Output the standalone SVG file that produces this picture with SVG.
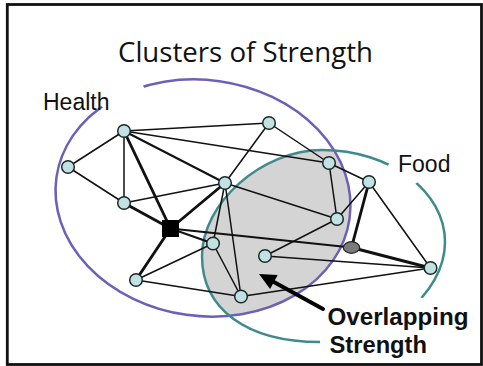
<svg xmlns="http://www.w3.org/2000/svg" width="483" height="366" viewBox="0 0 483 366">
  <style>
    .e { stroke: #111; stroke-width: 1.5; fill: none; stroke-linecap: round; }
    .m { stroke-width: 2.1; }
    .t { stroke-width: 2.9; }
    .n { fill: #c2e2e2; stroke: #1a2a2a; stroke-width: 1.5; }
    .lbl { font-family: "Liberation Sans", Arial, sans-serif; font-size: 23px; fill: #111; }
    .bold { font-family: "Liberation Sans", Arial, sans-serif; font-size: 24px; font-weight: bold; fill: #111; }
    .title { font-family: "Open Sans", "Noto Sans", sans-serif; font-size: 28px; fill: #111; }
  </style>
  <defs>
    <clipPath id="purpleClip">
      <ellipse cx="203" cy="198" rx="148" ry="118" transform="rotate(8 203 198)"/>
    </clipPath>
    <mask id="purpleGap" maskUnits="userSpaceOnUse" x="0" y="0" width="483" height="366">
      <rect x="0" y="0" width="483" height="366" fill="#fff"/>
      <polygon points="203,198 40.3,87.8 95.8,50.9" fill="#000"/>
    </mask>
    <mask id="tealGap" maskUnits="userSpaceOnUse" x="0" y="0" width="483" height="366">
      <rect x="0" y="0" width="483" height="366" fill="#fff"/>
      <polygon points="322,246 424,121.5 466,150" fill="#000"/>
      <polygon points="322,246 469,322.5 482,426 319,390" fill="#000"/>
    </mask>
    <path id="tealShape" d="M322,150 C389.9,150 445,191.2 445,242 C445,294 385,342 320,342 C246.8,342 202,309.3 202,256 C202,203 262,150 322,150 Z"/>
  </defs>

  <rect x="0" y="0" width="483" height="366" fill="#fff"/>
  <rect x="7.3" y="4.5" width="474.2" height="360" fill="none" stroke="#111" stroke-width="2.8"/>

  <g id="title">
    <text class="title" x="118" y="62" textLength="255" lengthAdjust="spacingAndGlyphs">Clusters of Strength</text>
  </g>

  <g id="overlap">
    <use href="#tealShape" fill="#d4d4d4" clip-path="url(#purpleClip)"/>
  </g>

  <g id="health-cluster">
    <ellipse cx="203" cy="198" rx="148" ry="118" transform="rotate(8 203 198)" fill="none" stroke="#6b62b8" stroke-width="2.5" mask="url(#purpleGap)"/>
    <text class="lbl" x="43" y="110">Health</text>
  </g>

  <g id="food-cluster">
    <use href="#tealShape" fill="none" stroke="#3e8a8c" stroke-width="2.5" mask="url(#tealGap)"/>
    <text class="lbl" x="398" y="171.5">Food</text>
  </g>

  <g id="connectors">
    <line class="e" x1="124" y1="131" x2="269" y2="123"/>
    <line class="e" x1="124" y1="131" x2="68" y2="167"/>
    <line class="e" x1="124" y1="131" x2="124" y2="203"/>
    <line class="e" x1="124" y1="131" x2="329" y2="163"/>
    <line class="e m" x1="124" y1="131" x2="225" y2="183"/>
    <line class="e t" x1="124" y1="131" x2="170.5" y2="228.5"/>
    <line class="e" x1="269" y1="123" x2="225" y2="183"/>
    <line class="e" x1="269" y1="123" x2="329" y2="163"/>
    <line class="e" x1="68" y1="167" x2="124" y2="203"/>
    <line class="e" x1="124" y1="203" x2="225" y2="183"/>
    <line class="e t" x1="124" y1="203" x2="170.5" y2="228.5"/>
    <line class="e t" x1="225" y1="183" x2="170.5" y2="228.5"/>
    <line class="e" x1="225" y1="183" x2="213" y2="243.5"/>
    <line class="e" x1="225" y1="183" x2="241" y2="296.5"/>
    <line class="e" x1="225" y1="183" x2="337" y2="219"/>
    <line class="e m" x1="170.5" y1="228.5" x2="213" y2="243.5"/>
    <line class="e m" x1="170.5" y1="228.5" x2="351.5" y2="247.5"/>
    <line class="e t" x1="170.5" y1="228.5" x2="136" y2="280"/>
    <line class="e" x1="213" y1="243.5" x2="136" y2="280"/>
    <line class="e" x1="213" y1="243.5" x2="241" y2="296.5"/>
    <line class="e" x1="136" y1="280" x2="241" y2="296.5"/>
    <line class="e" x1="241" y1="296.5" x2="430.5" y2="268"/>
    <line class="e" x1="265" y1="256" x2="430.5" y2="268"/>
    <line class="e" x1="265" y1="256" x2="337" y2="219"/>
    <line class="e" x1="329" y1="163" x2="337" y2="219"/>
    <line class="e" x1="329" y1="163" x2="369" y2="182"/>
    <line class="e" x1="369" y1="182" x2="337" y2="219"/>
    <line class="e t" x1="369" y1="182" x2="351.5" y2="247.5"/>
    <line class="e" x1="369" y1="182" x2="430.5" y2="268"/>
    <line class="e t" x1="351.5" y1="247.5" x2="430.5" y2="268"/>
  </g>

  <g id="node-a"><circle class="n" cx="124" cy="131" r="6.3"/></g>
  <g id="node-b"><circle class="n" cx="269" cy="123" r="6.3"/></g>
  <g id="node-c"><circle class="n" cx="68" cy="167" r="6.3"/></g>
  <g id="node-d"><circle class="n" cx="124" cy="203" r="6.3"/></g>
  <g id="node-e"><circle class="n" cx="225" cy="183" r="6.3"/></g>
  <g id="node-f"><circle class="n" cx="329" cy="163" r="6.3"/></g>
  <g id="node-g"><circle class="n" cx="369" cy="182" r="6.3"/></g>
  <g id="node-h"><circle class="n" cx="337" cy="219" r="6.3"/></g>
  <g id="node-i"><circle class="n" cx="213" cy="243.5" r="6.3"/></g>
  <g id="node-j"><circle class="n" cx="265" cy="256" r="6.3"/></g>
  <g id="node-k"><circle class="n" cx="430.5" cy="268" r="6.3"/></g>
  <g id="node-l"><circle class="n" cx="136" cy="280" r="6.3"/></g>
  <g id="node-m"><circle class="n" cx="241" cy="296.5" r="6.3"/></g>
  <g id="node-square"><rect x="162" y="220" width="17" height="17" fill="#000"/></g>
  <g id="node-oval"><ellipse cx="351.5" cy="247.5" rx="8.2" ry="5.8" fill="#7a7a7a" stroke="#222" stroke-width="1.2"/></g>

  <g id="callout">
    <line x1="323" y1="309" x2="272" y2="281" stroke="#000" stroke-width="4" stroke-linecap="round"/>
    <polygon points="259,274 277.7,275.1 270.1,289.1" fill="#000"/>
    <text class="bold" x="327.5" y="325" textLength="141" lengthAdjust="spacingAndGlyphs">Overlapping</text>
    <text class="bold" x="329.5" y="353" textLength="97.5" lengthAdjust="spacingAndGlyphs">Strength</text>
  </g>
</svg>
